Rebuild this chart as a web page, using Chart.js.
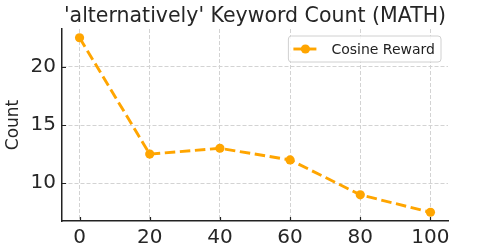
<!DOCTYPE html>
<html>
<head>
<meta charset="utf-8">
<script src="https://cdn.jsdelivr.net/npm/chart.js@4/dist/chart.umd.min.js"></script>
<style>
  html, body { margin: 0; padding: 0; background: #fff; }
  #wrap { width: 498px; height: 249px; position: relative; }
</style>
</head>
<body>
<div id="wrap"><canvas id="c"></canvas></div>
<script>
var STEPS = [0, 20, 40, 60, 80, 100];
var COSINE = [22.5, 12.5, 13, 12, 9, 7.5];
var X_TICKS = [0, 20, 40, 60, 80, 100];
var Y_TICKS = [10, 15, 20];
var TITLE = "'alternatively' Keyword Count (MATH)";

var ORANGE = '#ffa500';
var FONT = "'DejaVu Sans', sans-serif";

// title centred over the plot area, like matplotlib
var axesTitle = {
    id: 'axesTitle',
    afterDraw: function (chart) {
        var ctx = chart.ctx, a = chart.chartArea;
        ctx.save();
        ctx.font = '20.5px ' + FONT;
        ctx.fillStyle = '#262626';
        ctx.textAlign = 'center';
        ctx.textBaseline = 'alphabetic';
        ctx.fillText(TITLE, (a.left + a.right) / 2, 21.5);
        ctx.restore();
    }
};

// matplotlib-style inward tick marks
var innerTicks = {
    id: 'innerTicks',
    afterDraw: function (chart) {
        var ctx = chart.ctx, a = chart.chartArea;
        var xs = chart.scales.x, ys = chart.scales.y;
        ctx.save();
        ctx.strokeStyle = '#222';
        ctx.lineWidth = 1.2;
        ctx.beginPath();
        X_TICKS.forEach(function (v) {
            var px = Math.round(xs.getPixelForValue(v)) + 0.5;
            ctx.moveTo(px, a.bottom);
            ctx.lineTo(px, a.bottom - 4);
        });
        Y_TICKS.forEach(function (v) {
            var py = Math.round(ys.getPixelForValue(v)) + 0.5;
            ctx.moveTo(a.left, py);
            ctx.lineTo(a.left + 4, py);
        });
        ctx.stroke();
        ctx.restore();
    }
};

// boxed legend in the upper right corner
var boxLegend = {
    id: 'boxLegend',
    afterDraw: function (chart) {
        var ctx = chart.ctx, a = chart.chartArea;
        var ds = chart.data.datasets[0];
        ctx.save();
        ctx.font = '14px ' + FONT;
        var tw = ctx.measureText(ds.label).width;
        var w = 5 + 23 + 15 + tw + 6, h = 26;
        var x = a.right - 7 - w, y = a.top + 7;
        ctx.beginPath();
        ctx.roundRect(x, y, w, h, 3);
        ctx.fillStyle = 'rgba(255,255,255,0.85)';
        ctx.fill();
        ctx.strokeStyle = '#d0d0d0';
        ctx.lineWidth = 1;
        ctx.stroke();
        var cy = y + h / 2;
        ctx.strokeStyle = ORANGE;
        ctx.lineWidth = 2.9;
        ctx.beginPath();
        ctx.moveTo(x + 5, cy);
        ctx.lineTo(x + 28, cy);
        ctx.stroke();
        ctx.fillStyle = ORANGE;
        ctx.beginPath();
        ctx.arc(x + 17, cy, 4.6, 0, Math.PI * 2);
        ctx.fill();
        ctx.fillStyle = '#222';
        ctx.textBaseline = 'middle';
        ctx.fillText(ds.label, x + 43, cy + 1);
        ctx.restore();
    }
};

new Chart(document.getElementById('c'), {
    type: 'line',
    data: {
        datasets: [{
            label: 'Cosine Reward',
            data: STEPS.map(function (s, i) { return { x: s, y: COSINE[i] }; }),
            borderColor: ORANGE,
            backgroundColor: ORANGE,
            borderWidth: 2.9,
            borderDash: [10.5, 4.6],
            pointRadius: 4.6,
            pointHoverRadius: 4.6,
            pointBorderWidth: 0,
            tension: 0,
            fill: false
        }]
    },
    options: {
        responsive: true,
        maintainAspectRatio: false,
        animation: false,
        events: [],
        layout: { padding: { left: 0, right: 50, top: 29, bottom: 0 } },
        plugins: {
            legend: { display: false },
            tooltip: { enabled: false },
            title: { display: false }
        },
        scales: {
            x: {
                type: 'linear',
                min: -5,
                max: 105,
                afterBuildTicks: function (s) { s.ticks = X_TICKS.map(function (v) { return { value: v }; }); },
                afterFit: function (s) { s.height = 28; },
                grid: { color: '#d3d3d3', lineWidth: 1, drawTicks: false },
                border: { display: true, color: '#222', width: 1.5, dash: [4, 2] },
                ticks: { color: '#262626', padding: 5, maxRotation: 0, font: { family: FONT, size: 20 } }
            },
            y: {
                min: 6.75,
                max: 23.25,
                afterBuildTicks: function (s) { s.ticks = Y_TICKS.map(function (v) { return { value: v }; }); },
                afterFit: function (s) { s.width = 62; },
                grid: { color: '#d3d3d3', lineWidth: 1, drawTicks: false },
                border: { display: true, color: '#222', width: 1.5, dash: [4, 2] },
                ticks: { color: '#262626', padding: 6, font: { family: FONT, size: 20 } },
                title: {
                    display: true,
                    text: 'Count',
                    color: '#262626',
                    font: { family: FONT, size: 17 },
                    padding: { top: 3, bottom: 0 }
                }
            }
        }
    },
    plugins: [axesTitle, innerTicks, boxLegend]
});
</script>
</body>
</html>
